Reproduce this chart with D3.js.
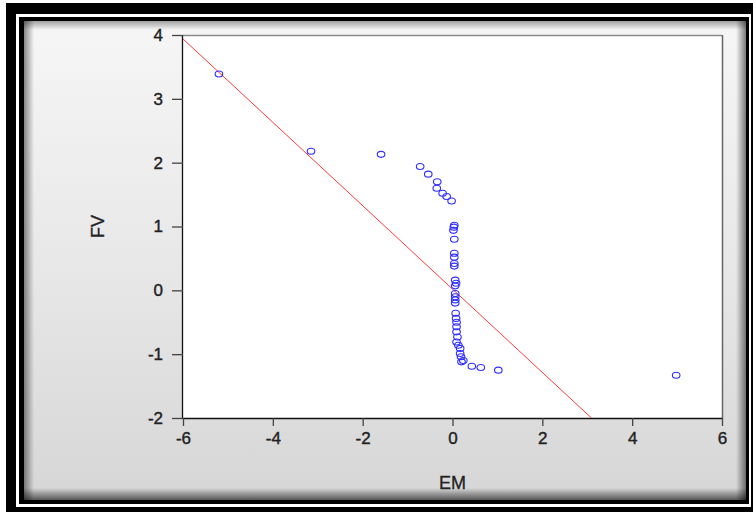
<!DOCTYPE html>
<html><head><meta charset="utf-8">
<script src="https://cdn.jsdelivr.net/npm/d3@7"></script>
<style>html,body{margin:0;padding:0;background:#fff;}svg{display:block;}</style>
</head><body>
<script>
// data
const emValues = [-5.20,-3.15,-1.59,-0.72,-0.54,-0.34,-0.35,-0.22,-0.13,-0.02,
  0.04,0.03,0.02,0.04,0.04,0.04,0.04,0.04,0.06,0.08,0.06,0.06,0.06,0.06,0.06,
  0.07,0.08,0.09,0.09,0.09,0.11,0.09,0.13,0.17,0.17,0.19,0.20,0.24,0.43,0.63,1.02,4.98];
const fvValues = [3.39,2.18,2.13,1.94,1.82,1.70,1.60,1.52,1.47,1.40,
  1.02,0.99,0.94,0.80,0.58,0.52,0.42,0.38,0.16,0.11,0.07,-0.05,-0.10,-0.15,-0.20,
  -0.36,-0.44,-0.50,-0.57,-0.65,-0.73,-0.81,-0.86,-0.91,-0.99,-1.04,-1.12,-1.10,-1.19,-1.21,-1.25,-1.33];
const fitIntercept = 0.02;
const fitSlope = -0.653;
const xTicks = [-6,-4,-2,0,2,4,6];
const yTicks = [-2,-1,0,1,2,3,4];
const xTitle = "EM";
const yTitle = "FV";

const W = 753, H = 512;
const svg = d3.select("body").append("svg").attr("width", W).attr("height", H);
const defs = svg.append("defs");

function lg(id, x1, y1, x2, y2, stops) {
  const g = defs.append("linearGradient").attr("id", id)
    .attr("x1", x1).attr("y1", y1).attr("x2", x2).attr("y2", y2);
  stops.forEach(s => g.append("stop").attr("offset", s[0]).attr("stop-color", s[1]).attr("stop-opacity", s[2]));
}
lg("panel", 0, 0, 0, 1, [[0, "#f6f6f6", 1], [0.5, "#e8e8e8", 1], [1, "#d6d6d6", 1]]);
lg("shL", 0, 0, 1, 0, [[0, "#000", 0.45], [1, "#000", 0]]);
lg("shR", 1, 0, 0, 0, [[0, "#000", 0.5], [1, "#000", 0]]);
lg("shT", 0, 0, 0, 1, [[0, "#000", 0.35], [1, "#000", 0]]);
lg("shB", 0, 1, 0, 0, [[0, "#000", 0.6], [1, "#000", 0]]);

// frame
svg.append("rect").attr("x", 6).attr("y", 3).attr("width", W - 6).attr("height", H - 3).attr("fill", "#000");
svg.append("rect").attr("x", 16).attr("y", 14).attr("width", 735).attr("height", 493).attr("fill", "#fff");
svg.append("rect").attr("x", 19).attr("y", 17).attr("width", 730).attr("height", 487).attr("fill", "#000");
const px0 = 24, py0 = 21, px1 = 746, py1 = 500;
svg.append("rect").attr("x", px0).attr("y", py0).attr("width", px1 - px0).attr("height", py1 - py0).attr("fill", "url(#panel)");
svg.append("rect").attr("x", px0).attr("y", py0).attr("width", 10).attr("height", py1 - py0).attr("fill", "url(#shL)");
svg.append("rect").attr("x", px1 - 10).attr("y", py0).attr("width", 10).attr("height", py1 - py0).attr("fill", "url(#shR)");
svg.append("rect").attr("x", px0).attr("y", py0).attr("width", px1 - px0).attr("height", 9).attr("fill", "url(#shT)");
svg.append("rect").attr("x", px0).attr("y", py1 - 12).attr("width", px1 - px0).attr("height", 12).attr("fill", "url(#shB)");

// plot
const L = 183, R = 722, T = 35, B = 418;
const x = d3.scaleLinear().domain([-6, 6]).range([L, R]);
const y = d3.scaleLinear().domain([-2, 4]).range([B, T]);

svg.append("rect").attr("x", L).attr("y", T).attr("width", R - L).attr("height", B - T).attr("fill", "#fff");
defs.append("clipPath").attr("id", "clip").append("rect").attr("x", L).attr("y", T).attr("width", R - L).attr("height", B - T);

// top and right borders
svg.append("line").attr("x1", L).attr("x2", R).attr("y1", T + 0.5).attr("y2", T + 0.5).attr("stroke", "#8a8a8a").attr("stroke-width", 1.5);
svg.append("line").attr("x1", R + 0.5).attr("x2", R + 0.5).attr("y1", T).attr("y2", B).attr("stroke", "#666").attr("stroke-width", 1.5);

const font = "'Liberation Sans', Arial, sans-serif";
const fmt = d => String(d);
const yAxis = d3.axisLeft(y).tickValues(yTicks).tickSize(11).tickPadding(9).tickFormat(fmt);
const gy = svg.append("g").attr("transform", `translate(${L},0)`).call(yAxis);
const xAxis = d3.axisBottom(x).tickValues(xTicks).tickSize(8).tickPadding(6).tickFormat(fmt);
const gx = svg.append("g").attr("transform", `translate(0,${B})`).call(xAxis);
[gx, gy].forEach(g => {
  g.select(".domain").attr("stroke", "#111").attr("stroke-width", 1.3);
  g.selectAll(".tick line").attr("stroke", "#444").attr("stroke-width", 1.3);
  g.selectAll(".tick text").attr("font-family", font).attr("font-size", 17).attr("fill", "#222")
    .attr("stroke", "#222").attr("stroke-width", 0.4);
});
gx.select(".domain").attr("d", `M${L},0.5H${R}`);
gy.select(".domain").attr("d", `M-0.5,${B}V${T}`);

// regression line
const xEnd = (-2 - fitIntercept) / fitSlope;
svg.append("line").attr("clip-path", "url(#clip)")
  .attr("x1", x(-6)).attr("y1", y(fitIntercept + fitSlope * -6))
  .attr("x2", x(xEnd)).attr("y2", y(-2))
  .attr("stroke", "#ff3b3b").attr("stroke-width", 1);

// points
svg.append("g").selectAll("ellipse").data(emValues.map((v, i) => [v, fvValues[i]])).join("ellipse")
  .attr("cx", d => x(d[0])).attr("cy", d => y(d[1]))
  .attr("rx", 3.8).attr("ry", 3)
  .attr("fill", "none").attr("stroke", "#2f2fff").attr("stroke-width", 1.1);

// titles
svg.append("text").attr("x", (L + R) / 2).attr("y", 489).attr("text-anchor", "middle")
  .attr("font-family", font).attr("font-size", 18).attr("fill", "#222")
  .attr("stroke", "#222").attr("stroke-width", 0.3).text(xTitle);
svg.append("text").attr("transform", `translate(104,${(T + B) / 2}) rotate(-90)`).attr("text-anchor", "middle")
  .attr("font-family", font).attr("font-size", 18).attr("fill", "#222")
  .attr("stroke", "#222").attr("stroke-width", 0.3).text(yTitle);
</script>
</body></html>
